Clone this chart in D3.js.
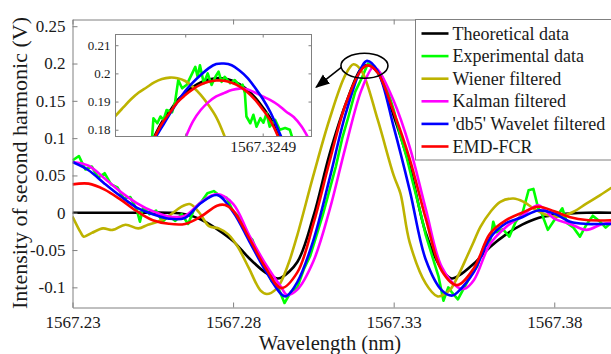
<!DOCTYPE html>
<html>
<head>
<meta charset="utf-8">
<script src="https://cdn.jsdelivr.net/npm/d3@7"></script>
<style>
  body { margin: 0; background: #fff; }
  svg { display: block; }
  svg text { font-family: 'Liberation Serif', 'DejaVu Serif', serif; }
</style>
</head>
<body>
<svg id="chart"></svg>
<script>
// ---- main plot data (wavelength in nm, intensity in V) ----
const xTheory = [1567.23, 1567.24, 1567.25, 1567.26, 1567.265, 1567.27, 1567.275, 1567.28, 1567.285, 1567.29, 1567.2935, 1567.295, 1567.30, 1567.305, 1567.31, 1567.315, 1567.32, 1567.322, 1567.325, 1567.33, 1567.335, 1567.34, 1567.345, 1567.348, 1567.35, 1567.355, 1567.36, 1567.365, 1567.37, 1567.375, 1567.38, 1567.385, 1567.39, 1567.40];
const yTheory = [0, 0, 0, 0, -0.002, -0.009, -0.022, -0.038, -0.061, -0.080, -0.088, -0.087, -0.066, -0.005, 0.078, 0.145, 0.194, 0.198, 0.188, 0.130, 0.062, -0.027, -0.076, -0.088, -0.085, -0.068, -0.046, -0.029, -0.016, -0.007, -0.003, -0.001, 0, 0];

const xExperimental = [1567.230, 1567.232, 1567.234, 1567.236, 1567.238, 1567.240, 1567.242, 1567.244, 1567.246, 1567.248, 1567.250, 1567.251, 1567.252, 1567.254, 1567.256, 1567.258, 1567.260, 1567.262, 1567.264, 1567.266, 1567.268, 1567.270, 1567.272, 1567.274, 1567.276, 1567.278, 1567.280, 1567.282, 1567.284, 1567.286, 1567.288, 1567.290, 1567.292, 1567.294, 1567.296, 1567.298, 1567.300, 1567.302, 1567.304, 1567.306, 1567.308, 1567.310, 1567.312, 1567.314, 1567.316, 1567.318, 1567.320, 1567.322, 1567.324, 1567.326, 1567.328, 1567.330, 1567.332, 1567.334, 1567.336, 1567.338, 1567.340, 1567.342, 1567.344, 1567.3455, 1567.347, 1567.348, 1567.350, 1567.352, 1567.354, 1567.356, 1567.358, 1567.360, 1567.361, 1567.362, 1567.364, 1567.366, 1567.368, 1567.370, 1567.372, 1567.3735, 1567.375, 1567.376, 1567.378, 1567.380, 1567.3825, 1567.384, 1567.386, 1567.388, 1567.390, 1567.392, 1567.394, 1567.396, 1567.398, 1567.400];
const yExperimental = [0.070, 0.076, 0.058, 0.062, 0.047, 0.053, 0.038, 0.034, 0.019, 0.021, 0.004, -0.012, 0.007, -0.002, 0.003, -0.012, -0.004, -0.011, -0.002, -0.015, 0.006, 0.014, 0.026, 0.029, 0.022, 0.020, 0.002, -0.006, -0.028, -0.036, -0.060, -0.070, -0.092, -0.100, -0.121, -0.106, -0.100, -0.076, -0.058, -0.030, -0.002, 0.030, 0.062, 0.100, 0.130, 0.162, 0.180, 0.200, 0.195, 0.186, 0.165, 0.138, 0.105, 0.075, 0.040, 0.006, -0.030, -0.058, -0.086, -0.118, -0.100, -0.106, -0.116, -0.100, -0.084, -0.072, -0.046, -0.040, -0.012, -0.026, -0.022, -0.032, -0.012, -0.002, 0.030, 0.032, 0.006, 0.000, -0.023, -0.010, 0.006, -0.014, -0.020, -0.032, -0.016, -0.004, -0.011, -0.020, -0.012, -0.014];

const xWiener = [1567.23, 1567.2325, 1567.2335, 1567.236, 1567.2395, 1567.2425, 1567.2465, 1567.2505, 1567.2535, 1567.2565, 1567.2595, 1567.2635, 1567.2665, 1567.2695, 1567.2725, 1567.2755, 1567.2785, 1567.2815, 1567.285, 1567.2885, 1567.2905, 1567.2935, 1567.295, 1567.2975, 1567.30, 1567.305, 1567.31, 1567.315, 1567.3175, 1567.32, 1567.325, 1567.33, 1567.3321, 1567.335, 1567.34, 1567.3436, 1567.345, 1567.3476, 1567.35, 1567.3528, 1567.355, 1567.357, 1567.3601, 1567.3632, 1567.3673, 1567.3704, 1567.3735, 1567.3777, 1567.3818, 1567.386, 1567.3901, 1567.3943, 1567.40];
const yWiener = [-0.005, -0.026, -0.032, -0.027, -0.021, -0.023, -0.016, -0.021, -0.016, -0.012, -0.006, 0.007, 0.0116, 0.000, -0.018, -0.021, -0.029, -0.046, -0.075, -0.104, -0.109, -0.102, -0.092, -0.065, -0.030, 0.050, 0.125, 0.185, 0.199, 0.190, 0.125, 0.050, 0.026, -0.040, -0.095, -0.112, -0.111, -0.103, -0.085, -0.059, -0.038, -0.019, 0.001, 0.0147, 0.019, 0.0147, 0.006, -0.003, -0.005, 0.0013, 0.0126, 0.0237, 0.040];

const xKalman = [1567.23, 1567.235, 1567.24, 1567.245, 1567.25, 1567.255, 1567.26, 1567.265, 1567.27, 1567.275, 1567.28, 1567.285, 1567.29, 1567.295, 1567.2968, 1567.30, 1567.305, 1567.31, 1567.315, 1567.32, 1567.3235, 1567.325, 1567.33, 1567.335, 1567.34, 1567.345, 1567.35, 1567.352, 1567.355, 1567.36, 1567.365, 1567.37, 1567.375, 1567.38, 1567.385, 1567.39, 1567.395, 1567.40];
const yKalman = [0.068, 0.063, 0.046, 0.028, 0.013, 0.002, -0.005, -0.004, 0.014, 0.025, 0.012, -0.030, -0.068, -0.100, -0.110, -0.103, -0.065, 0.003, 0.088, 0.165, 0.1945, 0.192, 0.150, 0.088, 0.005, -0.073, -0.100, -0.102, -0.090, -0.042, -0.019, -0.004, 0.010, -0.008, -0.015, -0.023, -0.015, -0.012];

const xWavelet = [1567.23, 1567.235, 1567.24, 1567.245, 1567.25, 1567.255, 1567.26, 1567.265, 1567.27, 1567.275, 1567.28, 1567.285, 1567.29, 1567.295, 1567.2965, 1567.30, 1567.305, 1567.31, 1567.315, 1567.32, 1567.3217, 1567.325, 1567.33, 1567.335, 1567.34, 1567.345, 1567.3483, 1567.35, 1567.355, 1567.36, 1567.365, 1567.37, 1567.375, 1567.38, 1567.385, 1567.39, 1567.395, 1567.40];
const yWavelet = [0.068, 0.057, 0.039, 0.022, 0.007, -0.002, -0.008, -0.007, 0.013, 0.0237, 0.001, -0.038, -0.077, -0.109, -0.112, -0.093, -0.037, 0.045, 0.132, 0.195, 0.2035, 0.190, 0.115, 0.030, -0.063, -0.104, -0.111, -0.106, -0.079, -0.034, -0.014, -0.006, 0.003, -0.001, -0.012, -0.015, -0.015, -0.015];

const xEmd = [1567.23, 1567.235, 1567.24, 1567.245, 1567.25, 1567.255, 1567.26, 1567.265, 1567.27, 1567.275, 1567.2775, 1567.28, 1567.285, 1567.29, 1567.295, 1567.30, 1567.305, 1567.31, 1567.315, 1567.32, 1567.322, 1567.325, 1567.33, 1567.335, 1567.34, 1567.345, 1567.3497, 1567.355, 1567.36, 1567.365, 1567.37, 1567.375, 1567.38, 1567.385, 1567.39, 1567.40];
const yEmd = [0.038, 0.039, 0.031, 0.0175, 0.002, -0.010, -0.0148, -0.015, -0.005, 0.0095, 0.0105, 0.003, -0.034, -0.073, -0.101, -0.080, -0.015, 0.068, 0.145, 0.192, 0.1975, 0.188, 0.135, 0.072, -0.008, -0.078, -0.097, -0.074, -0.028, -0.010, 0.000, 0.008, 0.002, -0.006, -0.0098, -0.0098];

// ---- inset data (zoom on the peak) ----
const insetXTheory = [1567.32475, 1567.32476, 1567.32477, 1567.32478, 1567.32479, 1567.32480, 1567.32481, 1567.32482, 1567.32483, 1567.32484, 1567.32485, 1567.32486, 1567.32487, 1567.32488, 1567.32489, 1567.32490, 1567.32491, 1567.32492, 1567.32493];
const insetYTheory = [0.1715, 0.1775, 0.1828, 0.1866, 0.1905, 0.1930, 0.1952, 0.1968, 0.1978, 0.1983, 0.1982, 0.1975, 0.1962, 0.1942, 0.1915, 0.1880, 0.1840, 0.1780, 0.1715];
const insetXExperimental = [1567.324757, 1567.324759, 1567.324764, 1567.324768, 1567.324772, 1567.324776, 1567.324783, 1567.324787, 1567.324791, 1567.324796, 1567.324802, 1567.324809, 1567.324813, 1567.324816, 1567.324819, 1567.324824, 1567.324829, 1567.324834, 1567.324839, 1567.324843, 1567.324847, 1567.324851, 1567.324858, 1567.324864, 1567.324871, 1567.324874, 1567.324877, 1567.324879, 1567.324884, 1567.324888, 1567.324892, 1567.324897, 1567.324901, 1567.324905, 1567.324909, 1567.324916, 1567.324922, 1567.324929, 1567.324935, 1567.324939];
const insetYExperimental = [0.1765, 0.1841, 0.1823, 0.1847, 0.1835, 0.1870, 0.1862, 0.1900, 0.1976, 0.1947, 0.1960, 0.2000, 0.2023, 0.1988, 0.2029, 0.1965, 0.2000, 0.1959, 0.1988, 0.2006, 0.1970, 0.1988, 0.1965, 0.1976, 0.1953, 0.1960, 0.1930, 0.1847, 0.1823, 0.1853, 0.1811, 0.1841, 0.1825, 0.1859, 0.1811, 0.1835, 0.1800, 0.1806, 0.1800, 0.1765];
const insetXWiener = [1567.32470, 1567.32471, 1567.32472, 1567.32473, 1567.32474, 1567.32475, 1567.32476, 1567.32477, 1567.32478, 1567.32479, 1567.32480, 1567.32481, 1567.32482, 1567.32483, 1567.32484, 1567.32485, 1567.32486];
const insetYWiener = [0.1815, 0.1849, 0.1879, 0.1908, 0.1932, 0.1950, 0.1968, 0.1980, 0.1985, 0.1983, 0.1973, 0.1952, 0.1924, 0.1888, 0.1845, 0.1782, 0.1700];
const insetXKalman = [1567.32479, 1567.32480, 1567.32481, 1567.32482, 1567.32483, 1567.32484, 1567.32485, 1567.32486, 1567.32487, 1567.32488, 1567.32489, 1567.32490, 1567.32491, 1567.32492, 1567.32493, 1567.32494, 1567.32495, 1567.32496, 1567.32497];
const insetYKalman = [0.1705, 0.1770, 0.1830, 0.1870, 0.1898, 0.1918, 0.1930, 0.1941, 0.1946, 0.1944, 0.1932, 0.1918, 0.1905, 0.1888, 0.1865, 0.1845, 0.1812, 0.1765, 0.1710];
const insetXWavelet = [1567.32475, 1567.32476, 1567.32477, 1567.32478, 1567.32479, 1567.32480, 1567.32481, 1567.32482, 1567.32483, 1567.32484, 1567.32485, 1567.32486, 1567.32487, 1567.32488, 1567.32489, 1567.32490, 1567.32491, 1567.32492, 1567.32493, 1567.32494];
const insetYWavelet = [0.1715, 0.1765, 0.1810, 0.1856, 0.1898, 0.1937, 0.1968, 0.1994, 0.2018, 0.2033, 0.2035, 0.2029, 0.2010, 0.1985, 0.1950, 0.1910, 0.1862, 0.1800, 0.1735, 0.1665];
const insetXEmd = [1567.32475, 1567.32476, 1567.32477, 1567.32478, 1567.32479, 1567.32480, 1567.32481, 1567.32482, 1567.32483, 1567.32484, 1567.32485, 1567.32486, 1567.32487, 1567.32488, 1567.32489, 1567.32490, 1567.32491, 1567.32492, 1567.32493];
const insetYEmd = [0.1710, 0.1770, 0.1822, 0.1860, 0.1898, 0.1923, 0.1944, 0.1960, 0.1970, 0.1975, 0.1974, 0.1967, 0.1954, 0.1934, 0.1907, 0.1872, 0.1832, 0.1775, 0.1710];

// ---- ticks, labels, legend ----
const xTicks = [1567.23, 1567.28, 1567.33, 1567.38];
const xTickLabels = ['1567.23', '1567.28', '1567.33', '1567.38'];
const yTicks = [-0.1, -0.05, 0, 0.05, 0.1, 0.15, 0.2, 0.25];
const yTickLabels = ['-0.1', '-0.05', '0', '0.05', '0.1', '0.15', '0.2', '0.25'];
const insetXTicks = [1567.3248, 1567.3249];
const insetXTickLabels = ['', '1567.3249'];
const insetYTicks = [0.18, 0.19, 0.2, 0.21];
const insetYTickLabels = ['0.18', '0.19', '0.2', '0.21'];
const seriesNames = ['Theoretical data', 'Experimental data', 'Wiener filtered', 'Kalman filtered', "'db5' Wavelet filtered", 'EMD-FCR'];
const seriesColors = ['#000000', '#00ff00', '#bdb300', '#ff00ff', '#0000ff', '#ff0000'];

// annotation: ellipse round the peak and arrow to the inset (data units)
const peakMark = [1567.3209, 0.197];
const arrowFrom = [1567.3137, 0.1948];
const arrowTo = [1567.3059, 0.1684];

let width = 611, height = 354;
let axisColor = '#808080', textColor = '#1a1a1a';
let serif = 'Liberation Serif';

let svg = d3.select('#chart').attr('width', width).attr('height', height)
  .attr('font-family', serif);
svg.append('rect').attr('width', width).attr('height', height).attr('fill', '#fff');

let x = d3.scaleLinear().domain([1567.23, 1567.40]).range([72.5, 618.5]);
let y = d3.scaleLinear().domain([-0.127, 0.259]).range([307.5, 19.5]);

let defs = svg.append('defs');
defs.append('clipPath').attr('id', 'clipMain').append('rect')
  .attr('x', 72.5).attr('y', 19.5).attr('width', 546).attr('height', 288);
defs.append('marker').attr('id', 'arrowHead')
  .attr('viewBox', '0 0 10 10').attr('refX', 9).attr('refY', 5)
  .attr('markerWidth', 9).attr('markerHeight', 9).attr('orient', 'auto')
  .append('path').attr('d', 'M0,1 L10,5 L0,9 z').attr('fill', '#000');

function drawLine(g, xs, ys, color, sx, sy, curve) {
  let line = d3.line()
    .x(function (d, i) { return sx(xs[i]); })
    .y(function (d) { return sy(d); })
    .curve(curve);
  g.append('path')
    .attr('d', line(ys))
    .attr('fill', 'none')
    .attr('stroke', color)
    .attr('stroke-width', 2.6)
    .attr('stroke-linejoin', 'round');
}

function styleAxis(g, size) {
  g.attr('font-family', serif).attr('font-size', size);
  g.selectAll('path.domain').attr('stroke', axisColor);
  g.selectAll('.tick line').attr('stroke', axisColor);
  g.selectAll('text').attr('fill', textColor).attr('font-family', serif).attr('font-size', size);
}

// main series, in plotting order
let plot = svg.append('g').attr('clip-path', 'url(#clipMain)');
let mainX = [xTheory, xExperimental, xWiener, xKalman, xWavelet, xEmd];
let mainY = [yTheory, yExperimental, yWiener, yKalman, yWavelet, yEmd];
mainX.forEach(function (xs, k) {
  let curve = k === 1 ? d3.curveLinear : d3.curveCatmullRom;
  drawLine(plot, xs, mainY[k], seriesColors[k], x, y, curve);
});

// axes (MATLAB style, ticks inside)
let gLeft = svg.append('g').attr('transform', 'translate(72.5,0)')
  .call(d3.axisLeft(y).tickValues(yTicks).tickFormat(function (d, i) { return yTickLabels[i]; })
    .tickSizeInner(-5).tickSizeOuter(0).tickPadding(7));
styleAxis(gLeft, 17);
let gBottom = svg.append('g').attr('transform', 'translate(0,307.5)')
  .call(d3.axisBottom(x).tickValues(xTicks).tickFormat(function (d, i) { return xTickLabels[i]; })
    .tickSizeInner(-5).tickSizeOuter(0).tickPadding(8));
styleAxis(gBottom, 17);
let gTop = svg.append('g').attr('transform', 'translate(0,19.5)')
  .call(d3.axisTop(x).tickValues(xTicks).tickFormat('').tickSizeInner(-5).tickSizeOuter(0));
styleAxis(gTop, 17);

svg.append('text')
  .attr('transform', 'translate(27,163) rotate(-90)')
  .attr('text-anchor', 'middle').attr('fill', textColor)
  .attr('font-family', serif).attr('font-size', 22)
  .text('Intensity of second harmonic (V)');
svg.append('text')
  .attr('x', 330).attr('y', 349.5)
  .attr('text-anchor', 'middle').attr('fill', textColor)
  .attr('font-family', serif).attr('font-size', 20.5)
  .text('Wavelength (nm)');

// ellipse and arrow
svg.append('ellipse')
  .attr('cx', x(peakMark[0])).attr('cy', y(peakMark[1]))
  .attr('rx', 23.5).attr('ry', 12.5)
  .attr('fill', 'none').attr('stroke', '#000').attr('stroke-width', 1.6);
svg.append('line')
  .attr('x1', x(arrowFrom[0])).attr('y1', y(arrowFrom[1]))
  .attr('x2', x(arrowTo[0])).attr('y2', y(arrowTo[1]))
  .attr('stroke', '#000').attr('stroke-width', 1.6)
  .attr('marker-end', 'url(#arrowHead)');

// ---- inset ----
let ix = d3.scaleLinear().domain([1567.32471, 1567.324963]).range([115.5, 311.5]);
let iy = d3.scaleLinear().domain([0.1776, 0.2138]).range([136.5, 34.5]);
defs.append('clipPath').attr('id', 'clipInset').append('rect')
  .attr('x', 115.5).attr('y', 34.5).attr('width', 196).attr('height', 102);

let inset = svg.append('g');
inset.append('rect').attr('x', 115.5).attr('y', 34.5).attr('width', 196).attr('height', 102)
  .attr('fill', '#fff');
let insetPlot = inset.append('g').attr('clip-path', 'url(#clipInset)');
let insetX = [insetXTheory, insetXExperimental, insetXWiener, insetXKalman, insetXWavelet, insetXEmd];
let insetY = [insetYTheory, insetYExperimental, insetYWiener, insetYKalman, insetYWavelet, insetYEmd];
insetX.forEach(function (xs, k) {
  let curve = k === 1 ? d3.curveLinear : d3.curveCatmullRom;
  drawLine(insetPlot, xs, insetY[k], seriesColors[k], ix, iy, curve);
});
inset.append('rect').attr('x', 115.5).attr('y', 34.5).attr('width', 196).attr('height', 102)
  .attr('fill', 'none').attr('stroke', axisColor);

let iLeft = inset.append('g').attr('transform', 'translate(115.5,0)')
  .call(d3.axisLeft(iy).tickValues(insetYTicks).tickFormat(function (d, i) { return insetYTickLabels[i]; })
    .tickSizeInner(-3).tickSizeOuter(0).tickPadding(5));
let iRight = inset.append('g').attr('transform', 'translate(311.5,0)')
  .call(d3.axisRight(iy).tickValues(insetYTicks).tickFormat('').tickSizeInner(-3).tickSizeOuter(0));
let iTop = inset.append('g').attr('transform', 'translate(0,34.5)')
  .call(d3.axisTop(ix).tickValues(insetXTicks).tickFormat('').tickSizeInner(-3).tickSizeOuter(0));
let iBottom = inset.append('g').attr('transform', 'translate(0,136.5)')
  .call(d3.axisBottom(ix).tickValues(insetXTicks).tickFormat(function (d, i) { return insetXTickLabels[i]; })
    .tickSizeInner(-3).tickSizeOuter(0).tickPadding(4));
[iLeft, iRight, iTop].forEach(function (g) { styleAxis(g, 13); });
styleAxis(iBottom, 15.5);
inset.selectAll('path.domain').attr('stroke', 'none');

// ---- legend ----
let legend = svg.append('g');
legend.append('rect').attr('x', 415.5).attr('y', 19.5).attr('width', 210).attr('height', 140.5)
  .attr('fill', '#fff').attr('stroke', axisColor);
seriesNames.forEach(function (name, k) {
  let ry = 33.5 + k * 22.6;
  legend.append('line').attr('x1', 421.5).attr('x2', 448.5).attr('y1', ry).attr('y2', ry)
    .attr('stroke', seriesColors[k]).attr('stroke-width', 2.6);
  legend.append('text').attr('x', 452.5).attr('y', ry + 6)
    .attr('fill', textColor).attr('font-family', serif).attr('font-size', 18).text(name);
});
</script>
</body>
</html>
